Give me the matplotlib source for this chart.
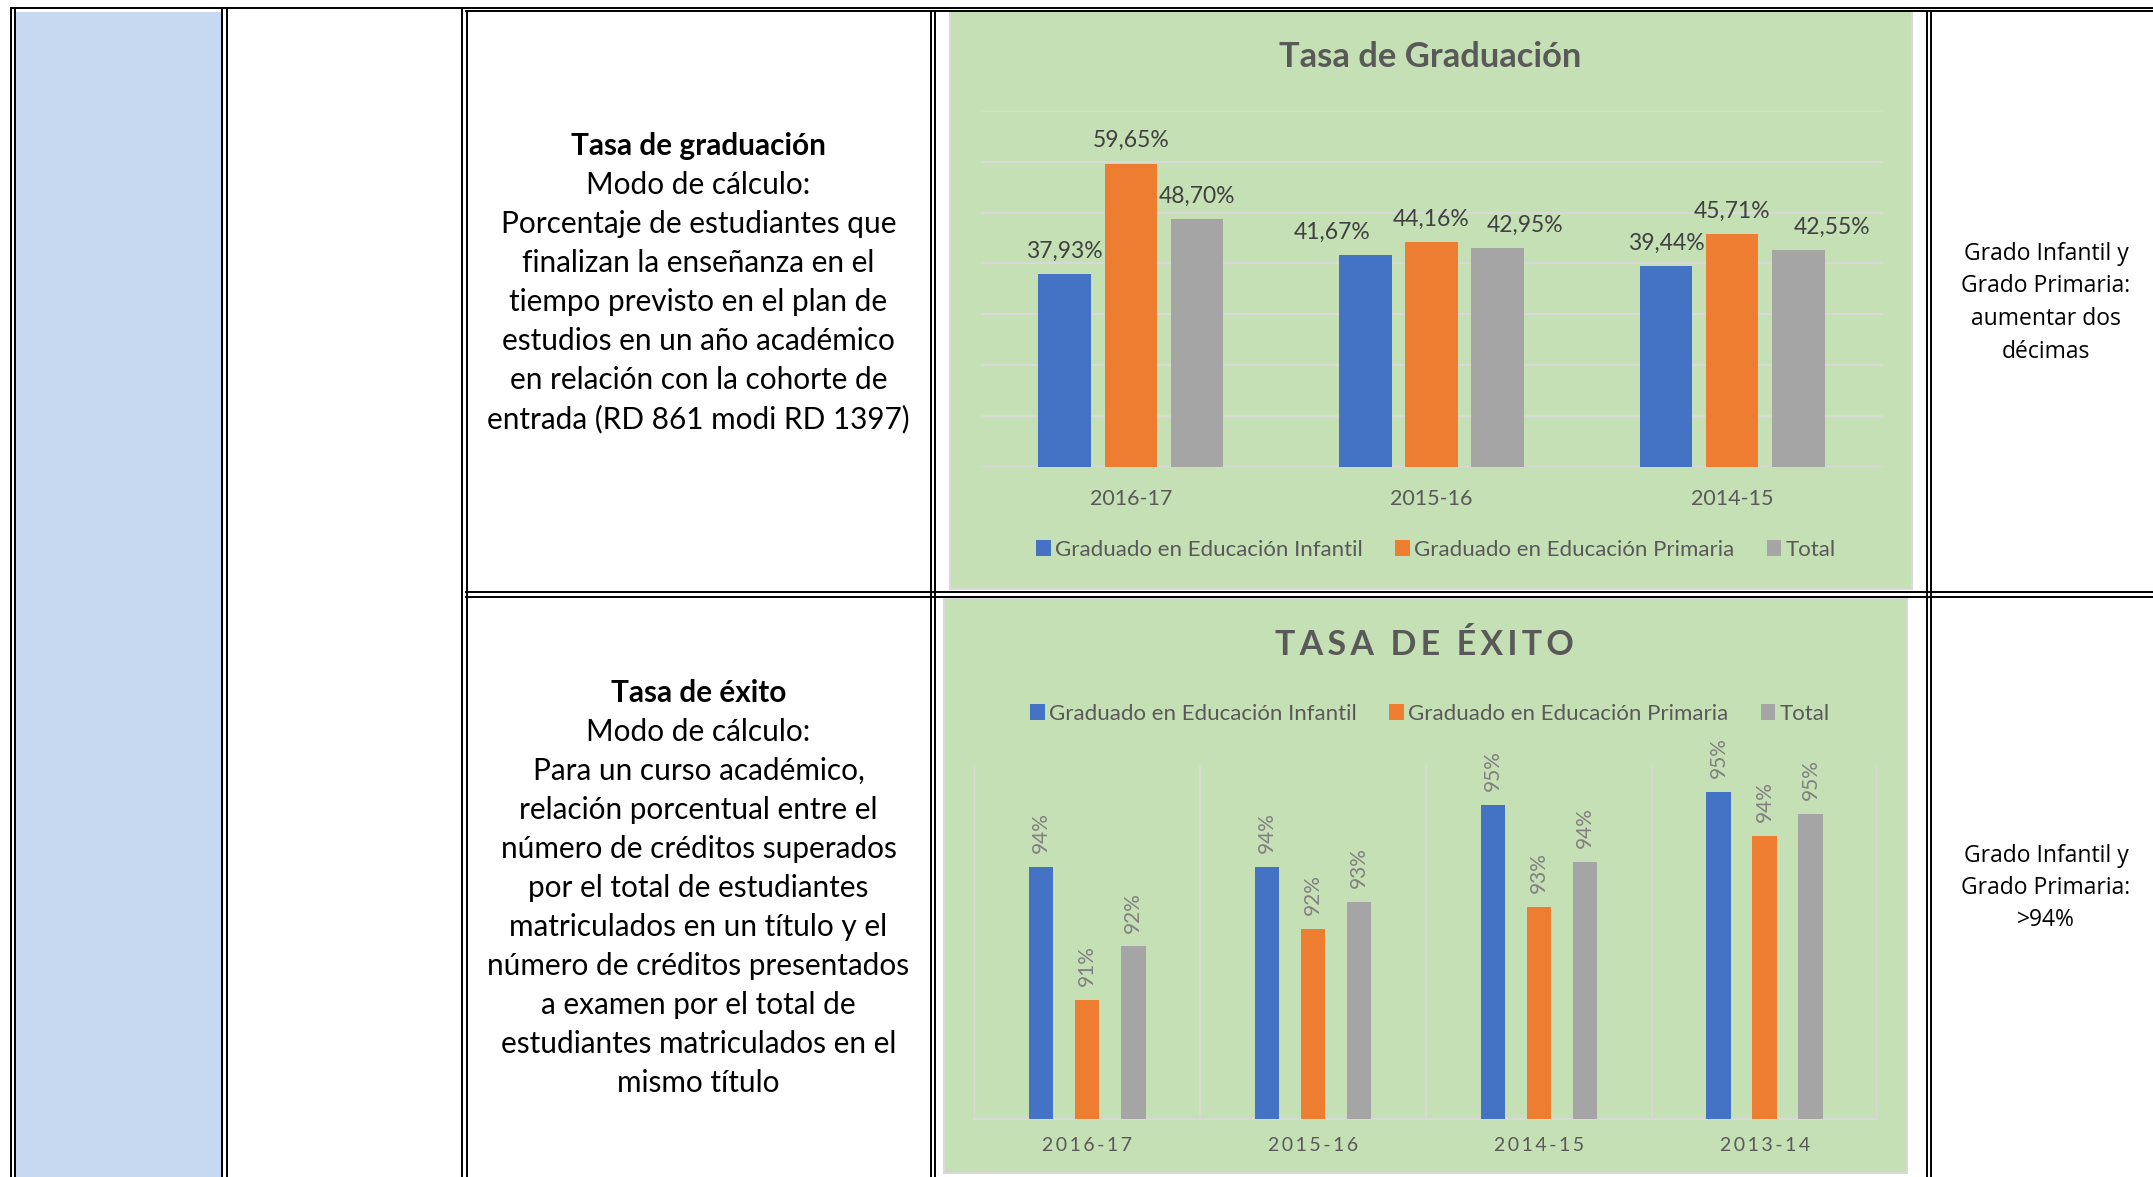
import matplotlib
matplotlib.use('Agg')
from matplotlib import pyplot as plt
from matplotlib.patches import Rectangle, Patch
import numpy as np

plt.rcParams['font.family'] = ['Lato', 'DejaVu Sans']

W, H = 2153, 1177

# Tasa de graduacion (%)
grad_years = ['2016-17', '2015-16', '2014-15']
grad_infantil = [37.93, 41.67, 39.44]
grad_primaria = [59.65, 44.16, 45.71]
grad_total = [48.70, 42.95, 42.55]

# Tasa de exito (%)
exito_years = ['2016-17', '2015-16', '2014-15', '2013-14']
exito_infantil = [93.7, 93.7, 95.1, 95.4]
exito_primaria = [90.7, 92.3, 92.8, 94.4]
exito_total = [91.9, 92.9, 93.8, 94.9]

series_names = ['Graduado en Educación Infantil', 'Graduado en Educación Primaria', 'Total']
series_colors = ['#4472C4', '#ED7D31', '#A5A5A5']

grad_text = ['Tasa de graduación', 'Modo de cálculo:', 'Porcentaje de estudiantes que',
             'finalizan la enseñanza en el', 'tiempo previsto en el plan de',
             'estudios en un año académico', 'en relación con la cohorte de',
             'entrada (RD 861 modi RD 1397)']
exito_text = ['Tasa de éxito', 'Modo de cálculo:', 'Para un curso académico,',
              'relación porcentual entre el', 'número de créditos superados',
              'por el total de estudiantes', 'matriculados en un título y el',
              'número de créditos presentados', 'a examen por el total de',
              'estudiantes matriculados en el', 'mismo título']
grad_goal = ['Grado Infantil y', 'Grado Primaria:', 'aumentar dos', 'décimas']
exito_goal = ['Grado Infantil y', 'Grado Primaria:', '>94%']

TEXT_GRAY = '#595959'
GRID = '#D9D9D9'

# horizontal nudges (points) of the graduation labels, as placed in the original
label_nudge = [[0, -24, 0], [0, 0, 0], [0, 20, 24]]


def frac(x0, y0, x1, y1):
	# pixel box (top-left origin) -> figure fraction
	return [x0 / W, 1 - y1 / H, (x1 - x0) / W, (y1 - y0) / H]


fig = plt.figure(figsize=(W / 100, H / 100), dpi=100)
fig.patch.set_facecolor('white')

# Background layer in pixel coordinates
bg = fig.add_axes([0, 0, 1, 1])
bg.set_xlim(0, W)
bg.set_ylim(H, 0)
bg.axis('off')

bg.add_patch(Rectangle((16, 12), 205, H - 12, facecolor='#C6D9F0', edgecolor='none'))
bg.add_patch(Rectangle((950, 11), 962, 578, facecolor='#C5E0B4', edgecolor=GRID, lw=1.5))
bg.add_patch(Rectangle((944, 598), 963, 575, facecolor='#C5E0B4', edgecolor=GRID, lw=1.5))

# Table borders (double lines)
lw = 1.4
bg.plot([11, W], [7.5, 7.5], color='black', lw=lw)
bg.plot([466, W], [11, 11], color='black', lw=lw)
for y in [592, 597]:
	bg.plot([466, W], [y, y], color='black', lw=lw)
for x in [11, 15, 222, 226.5, 462]:
	bg.plot([x, x], [7.5, H], color='black', lw=lw)
for x in [466.5, 931, 935, 1927, 1930.5]:
	bg.plot([x, x], [11, H], color='black', lw=lw)

# Text cells
for i, line in enumerate(grad_text):
	bg.text(698.5, 145.5 + i * 39.1, line, ha='center', va='center', fontsize=21.4,
			fontweight='bold' if i == 0 else 'normal', color='black')
for i, line in enumerate(exito_text):
	bg.text(698.5, 693 + i * 39.0, line, ha='center', va='center', fontsize=21.4,
			fontweight='bold' if i == 0 else 'normal', color='black')
for i, line in enumerate(grad_goal):
	bg.text(2046, 254 + i * 32.5, line, ha='center', va='center', fontsize=16.5,
			family=['Open Sans', 'DejaVu Sans'], color='black')
for i, line in enumerate(exito_goal):
	bg.text(2046, 855.5 + i * 32.5, line, ha='center', va='center', fontsize=16.5,
			family=['Open Sans', 'DejaVu Sans'], color='black')

handles = [Patch(facecolor=c, edgecolor='none', label=n) for c, n in zip(series_colors, series_names)]
leg_kw = dict(loc='center', bbox_transform=bg.transData, ncol=3, frameon=False, fontsize=16,
			  labelcolor=TEXT_GRAY, handlelength=0.65, handleheight=0.7, handletextpad=0.2,
			  columnspacing=1.45)

# ---- Tasa de Graduacion ----
ax1 = fig.add_axes(frac(980.6, 111, 1882.5, 466.5))
ax1.patch.set_alpha(0)
x1 = np.arange(len(grad_years))
for k, vals in enumerate([grad_infantil, grad_primaria, grad_total]):
	bars = ax1.bar(x1 + (k - 1) * 0.22, vals, width=0.175, color=series_colors[k], zorder=3)
	for j, (b, v) in enumerate(zip(bars, vals)):
		ax1.annotate(f'{v:.2f}%'.replace('.', ','), (b.get_x() + b.get_width() / 2, v),
					 xytext=(label_nudge[k][j], 9), textcoords='offset points', ha='center',
					 va='bottom', fontsize=16.5, color='#404040')
ax1.set_xlim(-0.5, 2.5)
ax1.set_ylim(0, 70)
ax1.set_yticks(np.arange(0, 71, 10))
ax1.yaxis.grid(True, color=GRID, lw=1.4)
ax1.set_axisbelow(True)
ax1.tick_params(axis='y', length=0, labelleft=False)
ax1.set_xticks(x1, grad_years)
ax1.tick_params(axis='x', length=0, pad=16, labelsize=15.5, labelcolor=TEXT_GRAY)
for s in ax1.spines.values():
	s.set_visible(False)
bg.text(1430, 57, 'Tasa de Graduación', ha='center', va='center', fontsize=24.8,
		fontweight='bold', color=TEXT_GRAY)
ax1.legend(handles=handles, bbox_to_anchor=(1436, 550), **leg_kw)

# ---- Tasa de Exito ----
ax2 = fig.add_axes(frac(974.4, 765, 1877.5, 1119))
ax2.patch.set_alpha(0)
x2 = np.arange(len(exito_years))
for k, vals in enumerate([exito_infantil, exito_primaria, exito_total]):
	bars = ax2.bar(x2 + (k - 1) * 0.204, vals, width=0.108, color=series_colors[k], zorder=3)
	for b, v in zip(bars, vals):
		ax2.annotate(f'{v:.0f}%', (b.get_x() + b.get_width() / 2, v),
					 xytext=(0, 10), textcoords='offset points', ha='center', va='bottom',
					 rotation=90, fontsize=15, color='#808080')
ax2.set_xlim(-0.5, 3.5)
ax2.set_ylim(88, 96)
ax2.set_yticks([])
ax2.set_xticks(np.arange(-0.5, 4), minor=True)
ax2.xaxis.grid(True, which='minor', color=GRID, lw=1.4)
ax2.set_axisbelow(True)
ax2.set_xticks(x2, ['\u2009'.join(y) for y in exito_years])
ax2.tick_params(axis='x', which='both', length=0, pad=13, labelsize=14, labelcolor=TEXT_GRAY)
for s in ['top', 'left', 'right']:
	ax2.spines[s].set_visible(False)
ax2.spines['bottom'].set_color(GRID)
ax2.spines['bottom'].set_linewidth(1.6)
bg.text(1424, 645, '\u2009'.join('TASA DE ÉXITO').replace('\u2009 \u2009', '  '), ha='center',
		va='center', fontsize=24.5, fontweight='bold', color=TEXT_GRAY)
ax2.legend(handles=handles, bbox_to_anchor=(1430, 713.5), **leg_kw)

plt.savefig('out.png', dpi=100)
